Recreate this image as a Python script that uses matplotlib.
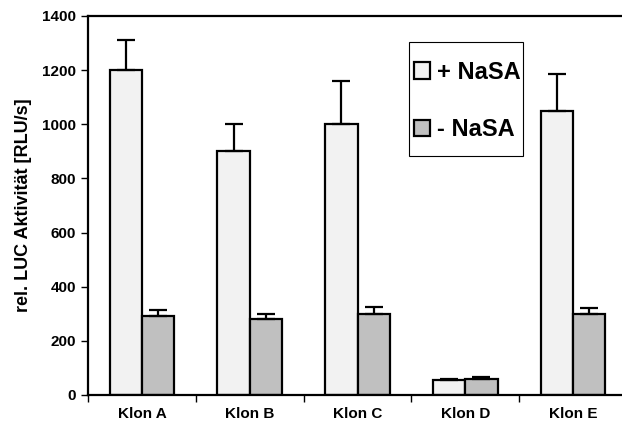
import numpy as np
import matplotlib
matplotlib.use("Agg")
from matplotlib import pyplot as plt
from matplotlib.patches import Patch, Rectangle

plt.rcParams['font.family'] = ['Liberation Sans', 'DejaVu Sans']
plt.rcParams['font.weight'] = 'bold'

clones = ['Klon A', 'Klon B', 'Klon C', 'Klon D', 'Klon E']
with_nasa = [1200, 900, 1000, 55, 1050]
with_nasa_err = [110, 100, 160, 5, 135]
without_nasa = [290, 280, 300, 60, 300]
without_nasa_err = [25, 20, 25, 5, 20]

LIGHT = '#f2f2f2'
GRAY = '#c0c0c0'
W = 0.3
LW = 1.6

fig = plt.figure(figsize=(6.22, 4.25), dpi=100)
ax = fig.add_axes([88 / 622, 30 / 425, (627 - 88) / 622, 379 / 425])

x = np.arange(len(clones))
err_kw = dict(ecolor='black', elinewidth=LW, capsize=6.5, capthick=LW)
ax.bar(x - W / 2, with_nasa, W, color=LIGHT, edgecolor='black', linewidth=LW,
       yerr=[np.zeros(len(clones)), with_nasa_err], error_kw=err_kw, zorder=2)
ax.bar(x + W / 2, without_nasa, W, color=GRAY, edgecolor='black', linewidth=LW,
       yerr=[np.zeros(len(clones)), without_nasa_err], error_kw=err_kw, zorder=2)

ax.set_xlim(-0.5, len(clones) - 0.5)
ax.set_ylim(0, 1400)
ax.set_yticks(np.arange(0, 1401, 200))
ax.set_xticks(x)
ax.set_xticklabels(clones, fontsize=11, fontweight='bold')
ax.set_xticks(np.arange(-0.5, len(clones), 1), minor=True)
ax.tick_params(axis='x', which='major', length=0, pad=9)
ax.tick_params(axis='x', which='minor', length=5, width=1, direction='out')
ax.tick_params(axis='y', length=5, width=1, direction='out', labelsize=11)
for lbl in ax.get_yticklabels():
    lbl.set_fontweight('bold')

ax.set_ylabel('rel. LUC Aktivität [RLU/s]', fontsize=13, fontweight='bold', labelpad=7)

for side in ['left', 'top', 'bottom']:
    ax.spines[side].set_linewidth(LW)
ax.spines['right'].set_visible(False)

# legend box drawn separately so the padding can differ per direction
ax.add_patch(Rectangle((0.5955, 0.6306), 0.2115, 0.3008, transform=ax.transAxes,
                       facecolor='white', edgecolor='black', linewidth=0.8, zorder=3))
handles = [Patch(facecolor=LIGHT, edgecolor='black', linewidth=LW, label='+ NaSA'),
           Patch(facecolor=GRAY, edgecolor='black', linewidth=LW, label='- NaSA')]
leg = ax.legend(handles=handles, loc='upper left', bbox_to_anchor=(0.605, 0.882),
                prop={'weight': 'bold', 'size': 17}, frameon=False,
                handlelength=0.68, handleheight=0.68, handletextpad=0.3, labelspacing=1.45,
                borderpad=0, borderaxespad=0)
leg.set_zorder(4)

fig.savefig('out.png', dpi=100)
